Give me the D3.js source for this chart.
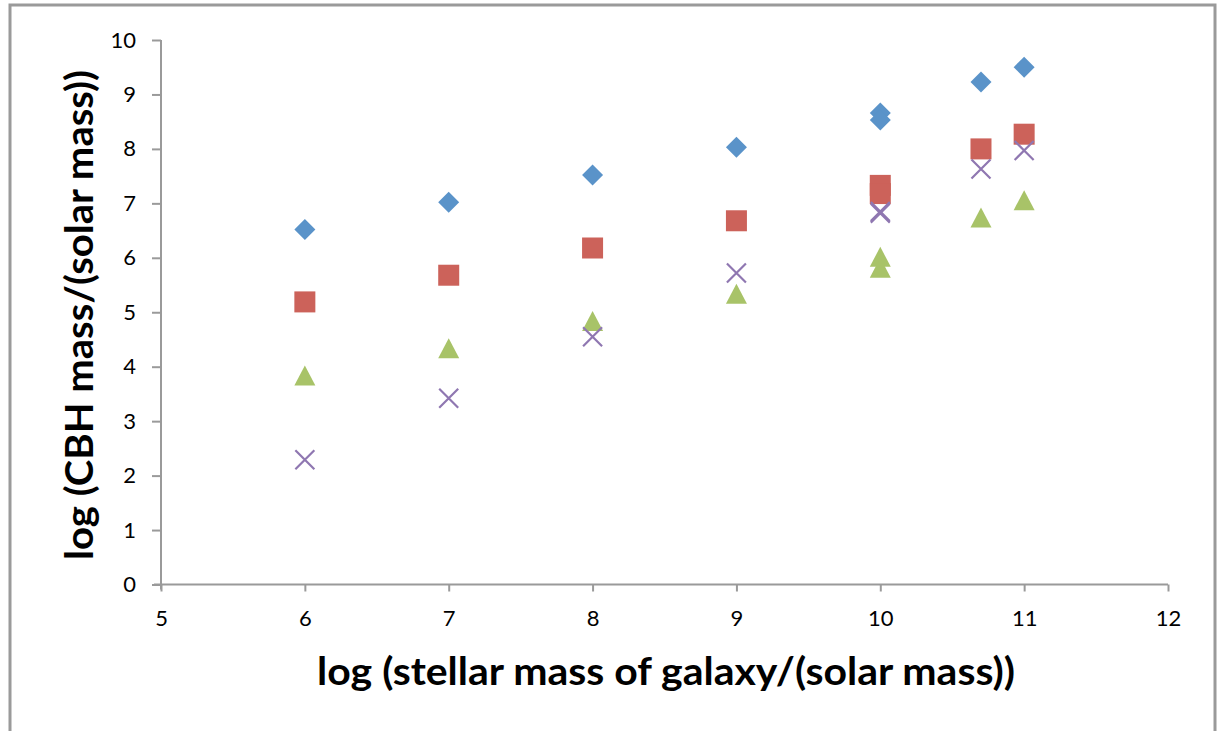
<!DOCTYPE html>
<html lang="en">
<head>
<meta charset="utf-8">
<title>CBH mass vs stellar mass</title>
<script src="https://d3js.org/d3.v7.min.js"></script>
<style>
  body { margin: 0; background: #fff; }
  text { font-family: Lato, "Open Sans", sans-serif; fill: #000; }
</style>
</head>
<body>
<svg id="chart" width="1224" height="731"></svg>
<script>
// galaxy stellar mass (log) shared by every series
var xVals = [6, 7, 8, 9, 10, 10, 10.7, 11];
// log CBH mass, one array per series
var seriesA = [6.52, 7.02, 7.52, 8.03, 8.66, 8.53, 9.23, 9.5];   // diamonds
var seriesB = [5.19, 5.68, 6.18, 6.68, 7.33, 7.18, 8.0, 8.27];   // squares
var seriesC = [3.82, 4.32, 4.82, 5.32, 6.0, 5.8, 6.72, 7.04];    // triangles
var seriesD = [2.29, 3.42, 4.55, 5.72, 6.85, 6.82, 7.63, 7.97];  // crosses
var xTicks = [5, 6, 7, 8, 9, 10, 11, 12];
var yTicks = [0, 1, 2, 3, 4, 5, 6, 7, 8, 9, 10];

var svg = d3.select("#chart");

// outer chart frame
svg.append("rect")
  .attr("x", 10).attr("y", 5).attr("width", 1205).attr("height", 740)
  .attr("fill", "none").attr("stroke", "#9a9a9a").attr("stroke-width", 3);

var pLeft = 161, pRight = 1168, pTop = 40, pBottom = 584.5;
var x = d3.scaleLinear().domain([5, 12]).range([pLeft, pRight]);
var y = d3.scaleLinear().domain([0, 10]).range([pBottom, pTop]);

var xAxis = svg.append("g")
  .attr("transform", "translate(0," + pBottom + ")")
  .call(d3.axisBottom(x).tickValues(xTicks).tickSize(7).tickPadding(19).tickFormat(d3.format("d")));
var yAxis = svg.append("g")
  .attr("transform", "translate(" + pLeft + ",0)")
  .call(d3.axisLeft(y).tickValues(yTicks).tickSize(9).tickPadding(16).tickFormat(d3.format("d")));

[xAxis, yAxis].forEach(function (g) {
  g.select(".domain").attr("stroke", "#9a9a9a").attr("stroke-width", 2);
  g.selectAll(".tick line").attr("stroke", "#9a9a9a").attr("stroke-width", 2);
  g.selectAll(".tick text").style("font-size", "22px").style("font-family", "Lato, sans-serif").attr("fill", "#000");
});
// axis lines: y runs a bit past the x axis, x starts just left of the y axis
yAxis.select(".domain").attr("d", "M0," + pTop + "V" + (pBottom + 5));
xAxis.select(".domain").attr("d", "M" + (pLeft - 7) + ",0H" + pRight);

// axis titles
svg.append("text")
  .attr("x", 317).attr("y", 685)
  .attr("textLength", 698).attr("lengthAdjust", "spacingAndGlyphs")
  .style("font-size", "39px").style("font-weight", "bold")
  .text("log (stellar mass of galaxy/(solar mass))");
svg.append("text")
  .attr("transform", "translate(93,560) rotate(-90)")
  .attr("textLength", 490).attr("lengthAdjust", "spacingAndGlyphs")
  .style("font-size", "39px").style("font-weight", "bold")
  .text("log (CBH mass/(solar mass))");

function pts(vals) {
  return vals.map(function (v, i) { return [xVals[i], v]; });
}

var plot = svg.append("g");

// diamonds
plot.selectAll(".dia").data(pts(seriesA)).join("path")
  .attr("transform", function (d) { return "translate(" + x(d[0]) + "," + y(d[1]) + ")"; })
  .attr("d", "M0,-10.5L10.5,0L0,10.5L-10.5,0Z")
  .attr("fill", "#5a93c9");

// squares
plot.selectAll(".sq").data(pts(seriesB)).join("rect")
  .attr("x", function (d) { return x(d[0]) - 10.5; })
  .attr("y", function (d) { return y(d[1]) - 10.5; })
  .attr("width", 21).attr("height", 21)
  .attr("fill", "#cc625a");

// triangles
plot.selectAll(".tri").data(pts(seriesC)).join("path")
  .attr("transform", function (d) { return "translate(" + x(d[0]) + "," + y(d[1]) + ")"; })
  .attr("d", "M0,-11L10.5,9L-10.5,9Z")
  .attr("fill", "#a8c368");

// crosses
plot.selectAll(".cr").data(pts(seriesD)).join("path")
  .attr("transform", function (d) { return "translate(" + x(d[0]) + "," + y(d[1]) + ")"; })
  .attr("d", "M-9.5,-9.5L9.5,9.5M-9.5,9.5L9.5,-9.5")
  .attr("fill", "none").attr("stroke", "#8f77b1").attr("stroke-width", 2.2);
</script>
</body>
</html>
